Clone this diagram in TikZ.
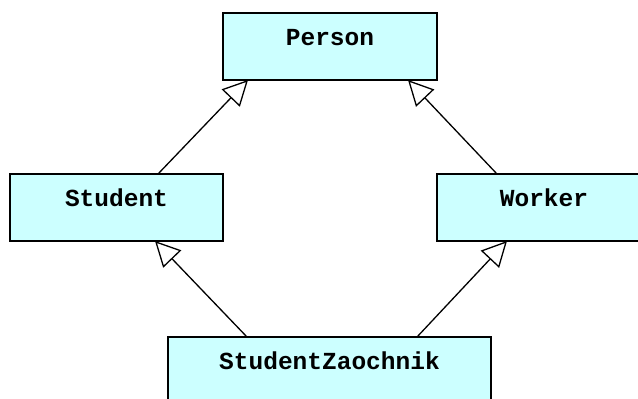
\documentclass[tikz,border=0pt]{standalone}
\usepackage{fontspec}
\setmonofont{Liberation Mono}
\usetikzlibrary{arrows.meta}
\definecolor{classfill}{RGB}{204,255,255}
\begin{document}
\begin{tikzpicture}[x=1pt,y=-1pt,
  classbox/.style={draw=black, line width=2.5pt, fill=classfill, rectangle,
    inner sep=0pt, outer sep=0pt, minimum height=67pt,
    text height=32pt, text depth=35pt,
    font=\ttfamily\bfseries\fontsize{24.5pt}{26pt}\selectfont},
  inherit/.style={line width=1.3pt, -{Triangle[open, length=25pt, width=25pt, fill=white, line width=1.3pt]}}]
  \useasboundingbox (0,0) rectangle (638,399);

  % classes
  \node[classbox, minimum width=214pt] (person) at (330,46.5) {Person};
  \node[classbox, minimum width=213pt] (student) at (116.5,207.5) {Student};
  \node[classbox, minimum width=214pt] (worker) at (544,207.5) {Worker};
  \node[classbox, minimum width=323pt] (zaochnik) at (329.5,370.5) {StudentZaochnik};

  % generalisations
  \draw[inherit] ([xshift=41.5pt]student.north) -- ([xshift=-82pt]person.south);
  \draw[inherit] ([xshift=-47pt]worker.north) -- ([xshift=78pt]person.south);
  \draw[inherit] ([xshift=-82.5pt]zaochnik.north) -- ([xshift=38.5pt]student.south);
  \draw[inherit] ([xshift=87.5pt]zaochnik.north) -- ([xshift=-37pt]worker.south);
\end{tikzpicture}
\end{document}
